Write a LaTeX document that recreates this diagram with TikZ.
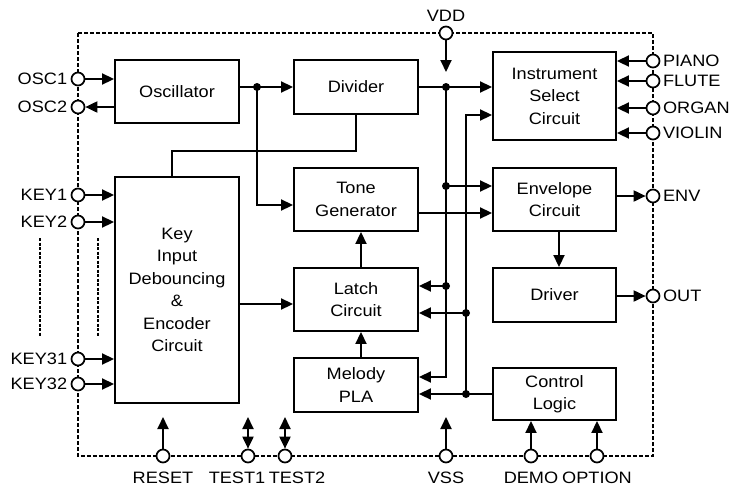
\documentclass[tikz,border=0pt]{standalone}
\usepackage{fontspec}
\setmainfont{Liberation Sans}[FakeStretch=1.1]
\usetikzlibrary{arrows.meta}
\begin{document}
\begin{tikzpicture}[x=1pt,y=-1pt,
  font=\fontsize{16.5}{22.5}\selectfont,
  box/.style={draw, line width=1.9pt, align=center, inner sep=2pt},
  pin/.style={circle, draw, fill=white, line width=1.7pt, minimum size=13pt, inner sep=0pt},
  wire/.style={line width=1.9pt},
  arr/.style={wire, -{Triangle[length=12pt,width=11pt]}},
  darr/.style={wire, {Triangle[length=12pt,width=11pt]}-{Triangle[length=12pt,width=11pt]}},
  border/.style={line width=1.5pt, dash pattern=on 4pt off 2pt},
  keydash/.style={line width=2.6pt, dash pattern=on 3pt off 1.5pt},
  rl/.style={label={[label distance=2.5pt, inner sep=0pt]right:#1}}
]
\useasboundingbox (0,0) rectangle (729,491);
\fill[white] (0,0) rectangle (729,491);

% chip outline
\draw[border] (78,33) rectangle (653,456);
\draw[keydash] (40,238) -- (40,337);
\draw[keydash] (98,238) -- (98,337);

% blocks
\node[box, minimum width=124pt, minimum height=63pt] (osc) at (177,91.5) {Oscillator};
\node[box, minimum width=124pt, minimum height=54pt] (div) at (356,87) {Divider};
\node[box, minimum width=123pt, minimum height=88pt] (inst) at (554.5,96) {Instrument\\Select\\Circuit};
\node[box, minimum width=124pt, minimum height=226pt] (key) at (177,290) {Key\\Input\\Debouncing\\\&\\Encoder\\Circuit};
\node[box, minimum width=124pt, minimum height=63pt] (tone) at (356,199.5) {Tone\\Generator};
\node[box, minimum width=123pt, minimum height=63pt] (env) at (554.5,199.5) {Envelope\\Circuit};
\node[box, minimum width=124pt, minimum height=63pt] (lat) at (356,299.5) {Latch\\Circuit};
\node[box, minimum width=123pt, minimum height=54pt] (drv) at (554.5,295) {Driver};
\node[box, minimum width=124pt, minimum height=54pt] (mel) at (356,385) {Melody\\PLA};
\node[box, minimum width=123pt, minimum height=52pt] (ctl) at (554.5,394) {Control\\Logic};

% pins
\node[pin, label={[label distance=0pt]left:OSC1}] (OSC1) at (78,79) {};
\node[pin, label={[label distance=0pt]left:OSC2}] (OSC2) at (78,107) {};
\node[pin, label={[label distance=0pt]left:KEY1}] (KEY1) at (78,195) {};
\node[pin, label={[label distance=0pt]left:KEY2}] (KEY2) at (78,222) {};
\node[pin, label={[label distance=0pt]left:KEY31}] (KEY31) at (78,359) {};
\node[pin, label={[label distance=0pt]left:KEY32}] (KEY32) at (78,384) {};
\node[pin, label={[label distance=1pt]above:VDD}] (VDD) at (446,33) {};
\node[pin, rl=PIANO] (PIANO) at (653,61) {};
\node[pin, rl=FLUTE] (FLUTE) at (653,81) {};
\node[pin, rl=ORGAN] (ORGAN) at (653,108) {};
\node[pin, rl=VIOLIN] (VIOLIN) at (653,133) {};
\node[pin, rl=ENV] (ENV) at (653,196) {};
\node[pin, rl=OUT] (OUT) at (653,296) {};
\node[pin, label={[label distance=5.5pt]below:RESET}] (RESET) at (163,456) {};
\node[pin, label={[label distance=5.5pt, xshift=-11pt]below:TEST1}] (TEST1) at (248,456) {};
\node[pin, label={[label distance=5.5pt, xshift=12pt]below:TEST2}] (TEST2) at (285,456) {};
\node[pin, label={[label distance=5.5pt]below:VSS}] (VSS) at (446,456) {};
\node[pin, label={[label distance=5.5pt]below:DEMO}] (DEMO) at (531,456) {};
\node[pin, label={[label distance=5.5pt]below:OPTION}] (OPTION) at (597,456) {};

% junctions and free ends
\coordinate (d0) at (257,87);
\coordinate (d1) at (446,87);
\coordinate (d2) at (446,186);
\coordinate (d3) at (446,286);
\coordinate (e1) at (466,313);
\coordinate (e2) at (466,394);
\coordinate (vddtip) at (446,72);
\coordinate (rtip) at (163,417);
\coordinate (t1tip) at (248,417);
\coordinate (t2tip) at (285,417);
\coordinate (vsstip) at (446,417);

% connectors
\draw[arr] (OSC1) -- (OSC1 -| osc.west);
\draw[arr] (OSC2 -| osc.west) -- (OSC2);
\draw[arr] (osc.east |- d0) -- (div.west |- d0);
\draw[arr] (d0) |- ([yshift=-5.5pt]tone.west);
\draw[wire] (div.south) -- ++(0,36) -| ([xshift=-5pt]key.north);
\draw[arr] (VDD) -- (vddtip);
\draw[arr] (div.east) -- (inst.west |- div.east);
\draw[arr] (d1) |- ([yshift=8pt]mel.east);
\draw[arr] (d2) -- (env.west |- d2);
\draw[arr] (d3) -- (lat.east |- d3);
\draw[arr] (e2) |- ([yshift=-19pt]inst.west);
\draw[arr] (e1) -- (lat.east |- e1);
\draw[arr] (ctl.west) -- (mel.east |- ctl.west);
\draw[arr] ([yshift=-13.5pt]tone.east) -- ([yshift=-13.5pt]env.west);
\draw[arr] (env.east |- ENV) -- (ENV);
\draw[arr] ([xshift=4.5pt]env.south) -- ([xshift=4.5pt]drv.north);
\draw[arr] (drv.east |- OUT) -- (OUT);
\draw[arr] ([xshift=5pt]lat.north) -- ([xshift=5pt]tone.south);
\draw[arr] ([xshift=5pt]mel.north) -- ([xshift=5pt]lat.south);
\draw[arr] ([yshift=-14pt]key.east) -- ([yshift=-4.5pt]lat.west);
\draw[arr] (KEY1) -- (KEY1 -| key.west);
\draw[arr] (KEY2) -- (KEY2 -| key.west);
\draw[arr] (KEY31) -- (KEY31 -| key.west);
\draw[arr] (KEY32) -- (KEY32 -| key.west);
\draw[arr] (PIANO) -- (PIANO -| inst.east);
\draw[arr] (FLUTE) -- (FLUTE -| inst.east);
\draw[arr] (ORGAN) -- (ORGAN -| inst.east);
\draw[arr] (VIOLIN) -- (VIOLIN -| inst.east);
\draw[arr] (RESET) -- (rtip);
\draw[darr] (TEST1) -- (t1tip);
\draw[darr] (TEST2) -- (t2tip);
\draw[arr] (VSS) -- (vsstip);
\draw[arr] (DEMO) -- (DEMO |- ctl.south);
\draw[arr] (OPTION) -- (OPTION |- ctl.south);

% junction dots
\foreach \p in {d0,d1,d2,d3,e1,e2} \fill (\p) circle (4pt);
\end{tikzpicture}
\end{document}
